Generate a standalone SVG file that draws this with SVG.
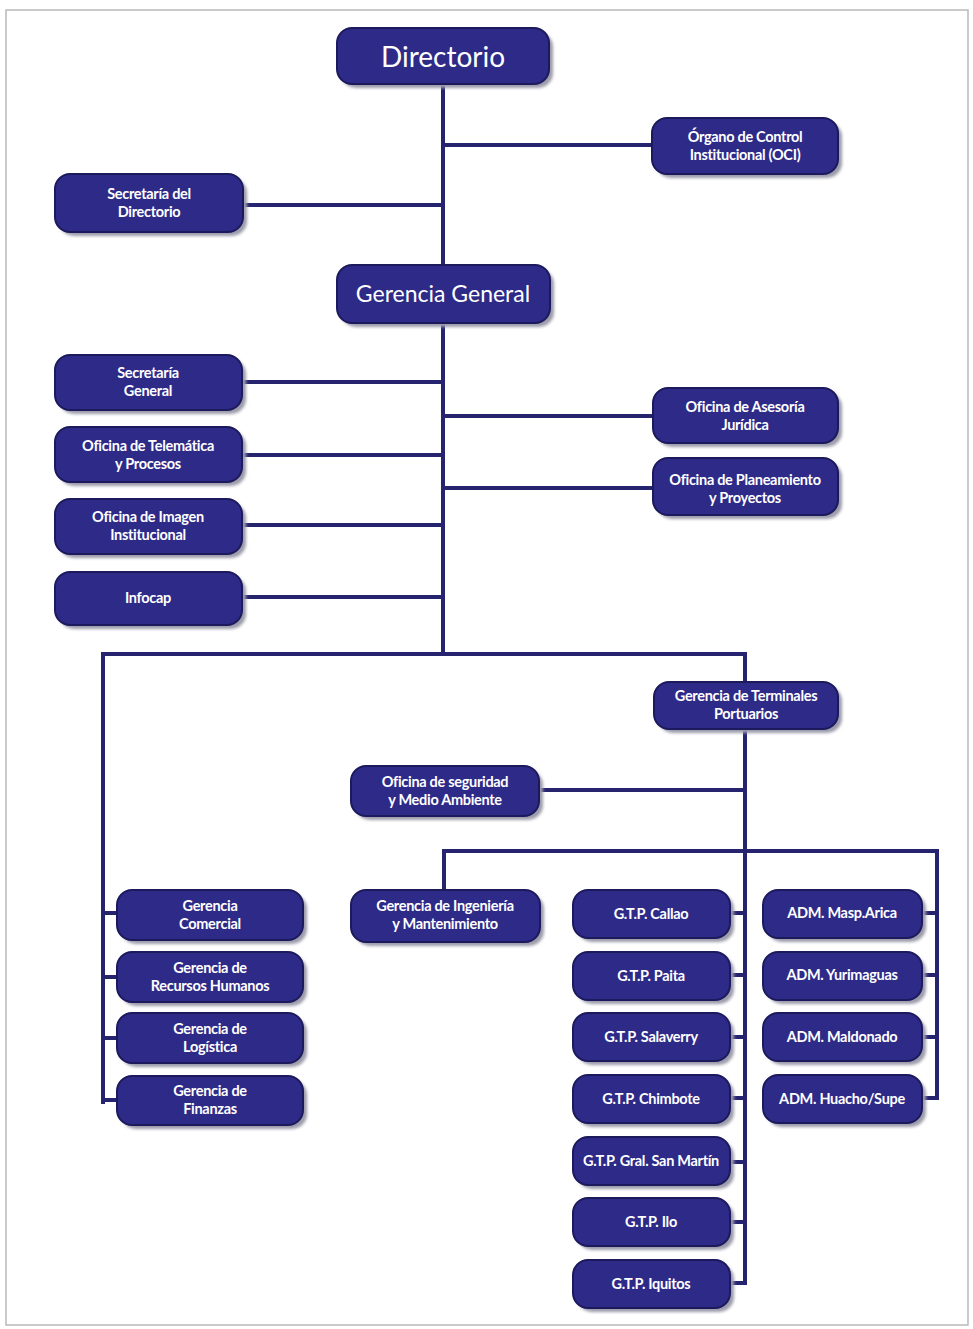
<svg xmlns="http://www.w3.org/2000/svg" width="973" height="1329" viewBox="0 0 973 1329">
  <defs>
    <filter id="soft" x="-10%" y="-10%" width="130%" height="140%">
      <feGaussianBlur stdDeviation="1.6"/>
    </filter>
  </defs>
  <style>
    .frame { fill: none; stroke: #b9b9bd; stroke-width: 1.5; }
    .link { fill: none; stroke: #26246f; stroke-width: 4; stroke-linecap: square; }
    .shadow { fill: #9b9bab; filter: url(#soft); }
    .box { fill: #2e2a88; stroke: #1c1a5c; stroke-width: 2; }
    .lbl { fill: #ffffff; font-family: Lato, "Liberation Sans", sans-serif; font-weight: 700; font-size: 14.5px; text-anchor: middle; letter-spacing: -0.3px; }
    .big { fill: #ffffff; font-family: Lato, "Liberation Sans", sans-serif; font-weight: 400; text-anchor: middle; }
  </style>

  <rect class="frame" x="6" y="10" width="962" height="1315"/>

  <!-- connectors -->
  <g id="connectors">
    <!-- main trunk -->
    <path class="link" d="M443 84 V654"/>
    <path class="link" d="M443 145 H652"/>
    <path class="link" d="M243 205 H443"/>
    <path class="link" d="M242 382 H443"/>
    <path class="link" d="M443 416 H653"/>
    <path class="link" d="M242 455 H443"/>
    <path class="link" d="M443 488 H653"/>
    <path class="link" d="M242 525 H443"/>
    <path class="link" d="M242 597 H443"/>
    <!-- distribution bar -->
    <path class="link" d="M103 654 H745"/>
    <!-- left branch: gerencias -->
    <path class="link" d="M103 654 V1102"/>
    <path class="link" d="M103 913 H117"/>
    <path class="link" d="M103 977 H117"/>
    <path class="link" d="M103 1038 H117"/>
    <path class="link" d="M103 1100 H117"/>
    <!-- right branch: terminales portuarios -->
    <path class="link" d="M745 654 V682"/>
    <path class="link" d="M745 729 V1283"/>
    <path class="link" d="M539 790 H745"/>
    <path class="link" d="M444 851 H937"/>
    <path class="link" d="M444 851 V890"/>
    <path class="link" d="M937 851 V1098"/>
    <!-- G.T.P. stubs -->
    <path class="link" d="M730 913 H745"/>
    <path class="link" d="M730 975 H745"/>
    <path class="link" d="M730 1037 H745"/>
    <path class="link" d="M730 1098 H745"/>
    <path class="link" d="M730 1162 H745"/>
    <path class="link" d="M730 1222 H745"/>
    <path class="link" d="M730 1283 H745"/>
    <!-- ADM stubs -->
    <path class="link" d="M922 913 H937"/>
    <path class="link" d="M922 975 H937"/>
    <path class="link" d="M922 1037 H937"/>
    <path class="link" d="M922 1098 H937"/>
  </g>

  <!-- top level -->
  <g id="directorio">
    <rect class="shadow" x="341" y="32" width="212" height="56" rx="15"/>
    <rect class="box" x="337" y="28" width="212" height="56" rx="15"/>
    <text class="big" x="443" y="67" font-size="28">Directorio</text>
  </g>
  <g id="oci">
    <rect class="shadow" x="656" y="122" width="186" height="56" rx="15"/>
    <rect class="box" x="652" y="118" width="186" height="56" rx="15"/>
    <text class="lbl" x="745" y="142">Órgano de Control</text>
    <text class="lbl" x="745" y="160">Institucional (OCI)</text>
  </g>
  <g id="secretaria-directorio">
    <rect class="shadow" x="59" y="178" width="188" height="58" rx="15"/>
    <rect class="box" x="55" y="174" width="188" height="58" rx="15"/>
    <text class="lbl" x="149" y="199">Secretaría del</text>
    <text class="lbl" x="149" y="217">Directorio</text>
  </g>
  <g id="gerencia-general">
    <rect class="shadow" x="341" y="269" width="213" height="58" rx="15"/>
    <rect class="box" x="337" y="265" width="213" height="58" rx="15"/>
    <text class="big" x="443" y="302" font-size="23">Gerencia General</text>
  </g>

  <!-- staff offices -->
  <g id="secretaria-general">
    <rect class="shadow" x="59" y="359" width="187" height="55" rx="15"/>
    <rect class="box" x="55" y="355" width="187" height="55" rx="15"/>
    <text class="lbl" x="148" y="378">Secretaría</text>
    <text class="lbl" x="148" y="396">General</text>
  </g>
  <g id="telematica">
    <rect class="shadow" x="59" y="431" width="187" height="55" rx="15"/>
    <rect class="box" x="55" y="427" width="187" height="55" rx="15"/>
    <text class="lbl" x="148" y="451">Oficina de Telemática</text>
    <text class="lbl" x="148" y="469">y Procesos</text>
  </g>
  <g id="imagen">
    <rect class="shadow" x="59" y="503" width="187" height="55" rx="15"/>
    <rect class="box" x="55" y="499" width="187" height="55" rx="15"/>
    <text class="lbl" x="148" y="522">Oficina de Imagen</text>
    <text class="lbl" x="148" y="540">Institucional</text>
  </g>
  <g id="infocap">
    <rect class="shadow" x="59" y="576" width="187" height="53" rx="15"/>
    <rect class="box" x="55" y="572" width="187" height="53" rx="15"/>
    <text class="lbl" x="148" y="603">Infocap</text>
  </g>
  <g id="asesoria">
    <rect class="shadow" x="657" y="392" width="185" height="55" rx="15"/>
    <rect class="box" x="653" y="388" width="185" height="55" rx="15"/>
    <text class="lbl" x="745" y="412">Oficina de Asesoría</text>
    <text class="lbl" x="745" y="430">Jurídica</text>
  </g>
  <g id="planeamiento">
    <rect class="shadow" x="657" y="462" width="185" height="57" rx="15"/>
    <rect class="box" x="653" y="458" width="185" height="57" rx="15"/>
    <text class="lbl" x="745" y="485">Oficina de Planeamiento</text>
    <text class="lbl" x="745" y="503">y Proyectos</text>
  </g>

  <!-- line management -->
  <g id="terminales">
    <rect class="shadow" x="658" y="686" width="184" height="47" rx="15"/>
    <rect class="box" x="654" y="682" width="184" height="47" rx="15"/>
    <text class="lbl" x="746" y="701">Gerencia de Terminales</text>
    <text class="lbl" x="746" y="719">Portuarios</text>
  </g>
  <g id="seguridad">
    <rect class="shadow" x="355" y="770" width="188" height="50" rx="15"/>
    <rect class="box" x="351" y="766" width="188" height="50" rx="15"/>
    <text class="lbl" x="445" y="787">Oficina de seguridad</text>
    <text class="lbl" x="445" y="805">y Medio Ambiente</text>
  </g>
  <g id="ingenieria">
    <rect class="shadow" x="355" y="894" width="189" height="52" rx="15"/>
    <rect class="box" x="351" y="890" width="189" height="52" rx="15"/>
    <text class="lbl" x="445" y="911">Gerencia de Ingeniería</text>
    <text class="lbl" x="445" y="929">y Mantenimiento</text>
  </g>

  <g id="comercial">
    <rect class="shadow" x="121" y="894" width="186" height="50" rx="15"/>
    <rect class="box" x="117" y="890" width="186" height="50" rx="15"/>
    <text class="lbl" x="210" y="911">Gerencia</text>
    <text class="lbl" x="210" y="929">Comercial</text>
  </g>
  <g id="rrhh">
    <rect class="shadow" x="121" y="956" width="186" height="50" rx="15"/>
    <rect class="box" x="117" y="952" width="186" height="50" rx="15"/>
    <text class="lbl" x="210" y="973">Gerencia de</text>
    <text class="lbl" x="210" y="991">Recursos Humanos</text>
  </g>
  <g id="logistica">
    <rect class="shadow" x="121" y="1017" width="186" height="50" rx="15"/>
    <rect class="box" x="117" y="1013" width="186" height="50" rx="15"/>
    <text class="lbl" x="210" y="1034">Gerencia de</text>
    <text class="lbl" x="210" y="1052">Logística</text>
  </g>
  <g id="finanzas">
    <rect class="shadow" x="121" y="1080" width="186" height="49" rx="15"/>
    <rect class="box" x="117" y="1076" width="186" height="49" rx="15"/>
    <text class="lbl" x="210" y="1096">Gerencia de</text>
    <text class="lbl" x="210" y="1114">Finanzas</text>
  </g>

  <!-- port terminals -->
  <g id="gtp-callao">
    <rect class="shadow" x="577" y="894" width="157" height="48" rx="15"/>
    <rect class="box" x="573" y="890" width="157" height="48" rx="15"/>
    <text class="lbl" x="651" y="919">G.T.P. Callao</text>
  </g>
  <g id="gtp-paita">
    <rect class="shadow" x="577" y="956" width="157" height="48" rx="15"/>
    <rect class="box" x="573" y="952" width="157" height="48" rx="15"/>
    <text class="lbl" x="651" y="981">G.T.P. Paita</text>
  </g>
  <g id="gtp-salaverry">
    <rect class="shadow" x="577" y="1017" width="157" height="48" rx="15"/>
    <rect class="box" x="573" y="1013" width="157" height="48" rx="15"/>
    <text class="lbl" x="651" y="1042">G.T.P. Salaverry</text>
  </g>
  <g id="gtp-chimbote">
    <rect class="shadow" x="577" y="1079" width="157" height="48" rx="15"/>
    <rect class="box" x="573" y="1075" width="157" height="48" rx="15"/>
    <text class="lbl" x="651" y="1104">G.T.P. Chimbote</text>
  </g>
  <g id="gtp-san-martin">
    <rect class="shadow" x="577" y="1141" width="157" height="48" rx="15"/>
    <rect class="box" x="573" y="1137" width="157" height="48" rx="15"/>
    <text class="lbl" x="651" y="1166" font-size="13px">G.T.P. Gral. San Martín</text>
  </g>
  <g id="gtp-ilo">
    <rect class="shadow" x="577" y="1202" width="157" height="48" rx="15"/>
    <rect class="box" x="573" y="1198" width="157" height="48" rx="15"/>
    <text class="lbl" x="651" y="1227">G.T.P. Ilo</text>
  </g>
  <g id="gtp-iquitos">
    <rect class="shadow" x="577" y="1264" width="157" height="48" rx="15"/>
    <rect class="box" x="573" y="1260" width="157" height="48" rx="15"/>
    <text class="lbl" x="651" y="1289">G.T.P. Iquitos</text>
  </g>

  <g id="adm-arica">
    <rect class="shadow" x="767" y="894" width="159" height="48" rx="15"/>
    <rect class="box" x="763" y="890" width="159" height="48" rx="15"/>
    <text class="lbl" x="842" y="918">ADM. Masp.Arica</text>
  </g>
  <g id="adm-yurimaguas">
    <rect class="shadow" x="767" y="956" width="159" height="48" rx="15"/>
    <rect class="box" x="763" y="952" width="159" height="48" rx="15"/>
    <text class="lbl" x="842" y="980">ADM. Yurimaguas</text>
  </g>
  <g id="adm-maldonado">
    <rect class="shadow" x="767" y="1017" width="159" height="48" rx="15"/>
    <rect class="box" x="763" y="1013" width="159" height="48" rx="15"/>
    <text class="lbl" x="842" y="1042">ADM. Maldonado</text>
  </g>
  <g id="adm-huacho">
    <rect class="shadow" x="767" y="1079" width="159" height="48" rx="15"/>
    <rect class="box" x="763" y="1075" width="159" height="48" rx="15"/>
    <text class="lbl" x="842" y="1104">ADM. Huacho/Supe</text>
  </g>
</svg>
